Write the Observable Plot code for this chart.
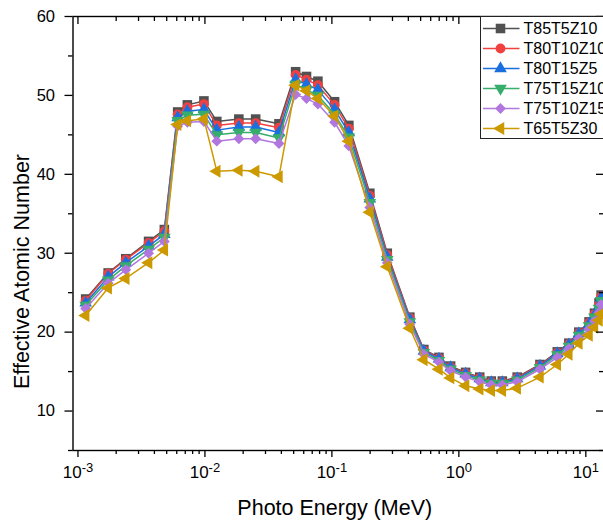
<!DOCTYPE html>
<html>
<head>
<meta charset="utf-8">
<script src="https://cdn.jsdelivr.net/npm/d3@7"></script>
<script src="https://cdn.jsdelivr.net/npm/@observablehq/plot@0.6"></script>
<style>
  html, body { margin: 0; padding: 0; background: #fff; overflow: hidden; }
  #wrap { position: relative; width: 603px; height: 524px; overflow: hidden; font-family: "Liberation Sans", Arial, sans-serif; }
  #legend { position: absolute; left: 480px; top: 16px; width: 140px; height: 123px; border: 1px solid #222; background: #fff; box-sizing: border-box; }
</style>
</head>
<body>
<div id="wrap"><div id="chart"></div><div id="legend"></div></div>
<script>
// ---- data ----
const energy = [0.00115, 0.00173, 0.00238, 0.0036, 0.00479, 0.0061, 0.00727, 0.00982, 0.0124, 0.0185, 0.0251, 0.0383,
  0.0518, 0.0631, 0.0776, 0.105, 0.136, 0.199, 0.273, 0.411, 0.53, 0.697, 0.861, 1.13, 1.46, 1.80, 2.20, 2.88,
  4.35, 5.96, 7.35, 8.81, 10.6, 11.7, 12.7, 13.2];
const seriesNames = ["T85T5Z10", "T80T10Z10", "T80T15Z5", "T75T15Z10", "T75T10Z15", "T65T5Z30"];
const zT85T5Z10 = [24.2, 27.5, 29.3, 31.5, 33.0, 47.9, 48.8, 49.3, 46.7, 47.0, 47.0, 46.4, 53.0, 52.4, 51.8, 49.2, 46.2, 37.6, 30.0, 21.9,
  17.8, 16.8, 15.7, 14.9, 14.3, 13.8, 13.8, 14.3, 15.9, 17.5, 18.6, 20.0, 21.3, 22.4, 23.7, 24.7];
const zT80T10Z10 = [24.0, 27.4, 29.2, 31.3, 32.8, 47.6, 48.5, 48.9, 46.2, 46.5, 46.5, 45.9, 52.6, 52.0, 51.3, 48.8, 45.8, 37.3, 29.8, 21.8,
  17.7, 16.7, 15.6, 14.8, 14.2, 13.7, 13.7, 14.2, 15.8, 17.4, 18.5, 19.9, 21.2, 22.3, 23.5, 24.5];
const zT80T15Z5 = [23.7, 27.0, 28.8, 30.9, 32.4, 47.2, 48.0, 48.2, 45.6, 46.0, 46.0, 45.3, 52.0, 51.4, 50.7, 48.2, 45.3, 36.9, 29.5, 21.6,
  17.6, 16.6, 15.5, 14.7, 14.1, 13.6, 13.6, 14.1, 15.7, 17.3, 18.4, 19.8, 21.0, 22.1, 23.3, 24.3];
const zT75T15Z10 = [23.4, 26.6, 28.4, 30.5, 32.0, 46.8, 47.5, 47.6, 45.0, 45.3, 45.3, 44.6, 51.4, 50.7, 50.0, 47.6, 44.7, 36.4, 29.2, 21.3,
  17.4, 16.4, 15.3, 14.5, 13.9, 13.5, 13.5, 13.9, 15.5, 17.1, 18.2, 19.6, 20.8, 21.9, 23.0, 24.0];
const zT75T10Z15 = [23.0, 26.2, 27.9, 30.0, 31.5, 46.1, 46.6, 46.7, 44.2, 44.5, 44.5, 43.9, 50.1, 49.6, 48.9, 46.6, 43.6, 35.8, 28.8, 21.0,
  17.2, 16.2, 15.1, 14.3, 13.7, 13.3, 13.3, 13.7, 15.3, 16.8, 17.9, 19.2, 20.4, 21.4, 22.5, 23.5];
const zT65T5Z30 = [22.1, 25.6, 26.8, 28.8, 30.4, 46.3, 46.8, 47.0, 40.4, 40.5, 40.4, 39.7, 51.3, 50.6, 49.6, 47.4, 44.2, 35.2, 28.3, 20.5,
  16.5, 15.3, 14.2, 13.2, 12.8, 12.6, 12.6, 12.9, 14.3, 15.9, 17.2, 18.6, 19.6, 20.6, 21.5, 22.3];
const seriesValues = [zT85T5Z10, zT80T10Z10, zT80T15Z5, zT75T15Z10, zT75T10Z15, zT65T5Z30];
const xMajorTicks = [0.001, 0.01, 0.1, 1, 10];
const xMajorExponents = ["-3", "-2", "-1", "0", "1"];
const yMajorTicks = [10, 20, 30, 40, 50, 60];
const yMinorTicks = [5, 15, 25, 35, 45, 55];
const xTitle = "Photo Energy (MeV)";
const yTitle = "Effective Atomic Number";

// ---- styles ----
const colors = ["#515151", "#F14040", "#1A6FDF", "#37AD6B", "#B177DE", "#CC9900"];
const symbols = ["square", "circle", "triangle", "triangle", "diamond2", "triangle"];
const rotations = [0, 0, 0, 180, 0, -90];
const radii = [5.4, 4.9, 4.7, 4.7, 4.9, 4.8];

const xMinorTicks = [];
for (let e = -3; e <= 1; e++) for (let k = 2; k <= 9; k++) xMinorTicks.push(k * Math.pow(10, e));

const rows = [];
seriesNames.forEach((name, i) => energy.forEach((e, j) => rows.push({series: name, energy: e, z: seriesValues[i][j]})));

const W = 606, H = 524, mL = 72.5, mR = 2, mT = 16, mB = 74;
const fW = W - mL - mR, fH = H - mT - mB;

const xLabel = d => {
  const k = xMajorTicks.findIndex(t => Math.abs(t - d) / t < 1e-6);
  return k >= 0 ? "10^" + xMajorExponents[k] : "";
};

const marks = [];
seriesNames.forEach((name, i) => {
  const d = rows.filter(r => r.series === name);
  marks.push(Plot.line(d, {x: "energy", y: "z", stroke: colors[i], strokeWidth: 1.5}));
  marks.push(Plot.dot(d, {x: "energy", y: "z", symbol: symbols[i], fill: colors[i], stroke: "none", r: radii[i], rotate: rotations[i]}));
});
marks.push(
  Plot.frame({stroke: "#000", strokeWidth: 1.4}),
  Plot.axisX({ticks: xMajorTicks, tickSize: 7, tickPadding: 8, tickFormat: xLabel, label: null, fontSize: 17, strokeWidth: 1.3}),
  Plot.axisX({ticks: xMinorTicks, tickSize: 4, tickFormat: () => "", label: null, strokeWidth: 1.3}),
  Plot.axisY({ticks: yMajorTicks, tickSize: 8, tickPadding: 10, label: null, fontSize: 16.5, strokeWidth: 1.3}),
  Plot.axisY({ticks: yMinorTicks, tickSize: 4.5, tickFormat: () => "", label: null, strokeWidth: 1.3}),
  Plot.tickX(xMajorTicks, {x: d => d, insetBottom: fH - 8, stroke: "#000", strokeWidth: 1.3}),
  Plot.tickX(xMinorTicks, {x: d => d, insetBottom: fH - 5, stroke: "#000", strokeWidth: 1.3}),
  Plot.tickY(yMajorTicks, {y: d => d, insetLeft: fW - 8, stroke: "#000", strokeWidth: 1.3}),
  Plot.tickY(yMinorTicks, {y: d => d, insetLeft: fW - 5, stroke: "#000", strokeWidth: 1.3}),
  Plot.text([xTitle], {frameAnchor: "bottom", text: d => d, dx: -4, dy: 58, fontSize: 21.5, textAnchor: "middle", lineAnchor: "middle", fill: "#000"}),
  Plot.text([yTitle], {frameAnchor: "left", text: d => d, rotate: -90, dx: -50.5, dy: 38, fontSize: 21.5, textAnchor: "middle", lineAnchor: "middle", fill: "#000"})
);

const chart = Plot.plot({
  width: W, height: H,
  marginLeft: mL, marginRight: mR, marginTop: mT, marginBottom: mB,
  x: {type: "log", domain: [0.000914, 14.03], label: null, axis: null},
  y: {domain: [5, 60], label: null, axis: null},
  style: {fontFamily: "'Liberation Sans', Arial, sans-serif", fontSize: "16.5px", color: "#000", background: "#fff", maxWidth: "none", overflow: "visible"},
  marks
});
document.getElementById("chart").appendChild(chart);

// superscript exponent labels
d3.select(chart).selectAll("text").each(function() {
  const t = this.textContent;
  if (/^10\^/.test(t)) {
    const exp = t.slice(3);
    const sel = d3.select(this);
    sel.text("10");
    sel.append("tspan").attr("dy", "-0.45em").attr("font-size", "13px").text(exp);
  }
});

// legend
const leg = d3.select("#legend").append("svg").attr("width", 140).attr("height", 123).style("display", "block");
const symMap = {square: d3.symbolSquare, circle: d3.symbolCircle, triangle: d3.symbolTriangle, diamond2: d3.symbolDiamond2};
seriesNames.forEach((name, i) => {
  const y = 11.5 + 20 * i;
  const g = leg.append("g");
  g.append("line").attr("x1", 2).attr("x2", 38.5).attr("y1", y).attr("y2", y).attr("stroke", colors[i]).attr("stroke-width", 1.5);
  g.append("path").attr("d", d3.symbol(symMap[symbols[i]], radii[i] * radii[i] * Math.PI)())
    .attr("transform", `translate(19.5,${y}) rotate(${rotations[i]})`).attr("fill", colors[i]);
  g.append("text").attr("x", 42.5).attr("y", y + 5.8).attr("font-size", 16).attr("fill", "#000")
    .attr("font-family", "'Liberation Sans', Arial, sans-serif").text(name);
});
</script>
</body>
</html>
